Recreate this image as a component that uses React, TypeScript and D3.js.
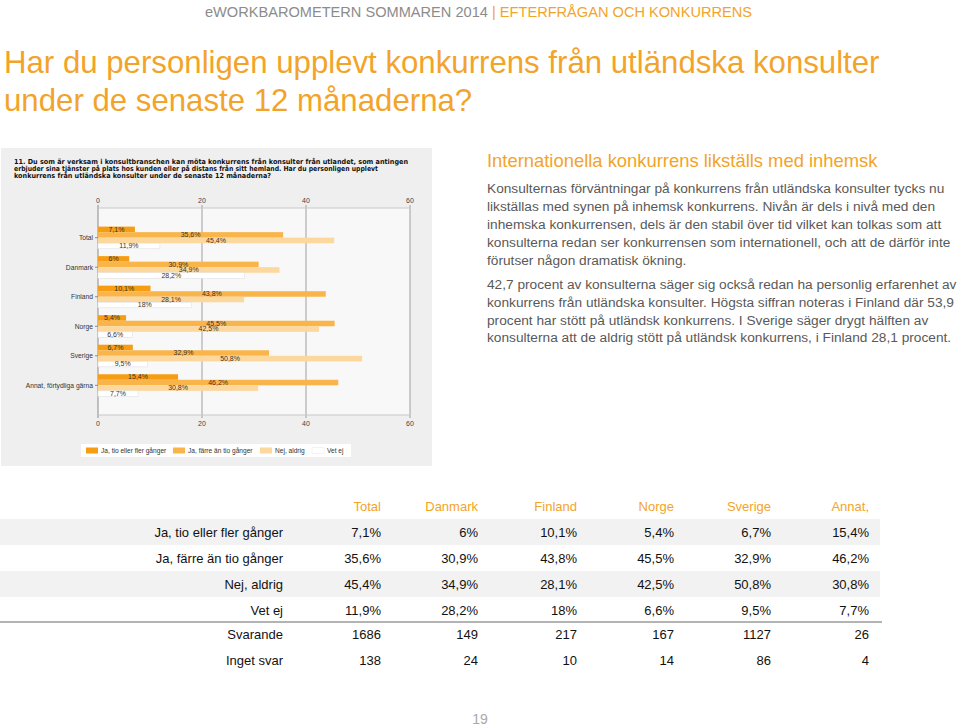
import React from "react";
import * as d3 from "d3";

const categories = ["Total", "Danmark", "Finland", "Norge", "Sverige", "Annat, förtydliga gärna"];
const tableColumns = ["Total", "Danmark", "Finland", "Norge", "Sverige", "Annat,"];
const seriesNames = ["Ja, tio eller fler gånger", "Ja, färre än tio gånger", "Nej, aldrig", "Vet ej"];
const tioEllerFler = [7.1, 6, 10.1, 5.4, 6.7, 15.4];
const farreAnTio = [35.6, 30.9, 43.8, 45.5, 32.9, 46.2];
const nejAldrig = [45.4, 34.9, 28.1, 42.5, 50.8, 30.8];
const vetEj = [11.9, 28.2, 18, 6.6, 9.5, 7.7];
const svarande = [1686, 149, 217, 167, 1127, 26];
const ingetSvar = [138, 24, 10, 14, 86, 4];
const xTicks = [0, 20, 40, 60];

const seriesValues = [tioEllerFler, farreAnTio, nejAldrig, vetEj];
const seriesColors = ["#f79d14", "#fab54a", "#fcd79e", "#ffffff"];

const questionLines = [
  "11. Du som är verksam i konsultbranschen kan möta konkurrens från konsulter från utlandet, som antingen",
  "erbjuder sina tjänster på plats hos kunden eller på distans från sitt hemland. Har du personligen upplevt",
  "konkurrens från utländska konsulter under de senaste 12 månaderna?",
];
const questionWidths = [394, 364, 257];

const bodyPara1 = [
  "Konsulternas förväntningar på konkurrens från utländska konsulter tycks nu",
  "likställas med synen på inhemsk konkurrens. Nivån är dels i nivå med den",
  "inhemska konkurrensen, dels är den stabil över tid vilket kan tolkas som att",
  "konsulterna redan ser konkurrensen som internationell, och att de därför inte",
  "förutser någon dramatisk ökning.",
];
const bodyPara2 = [
  "42,7 procent av konsulterna säger sig också redan ha personlig erfarenhet av",
  "konkurrens från utländska konsulter. Högsta siffran noteras i Finland där 53,9",
  "procent har stött på utländsk konkurrens. I Sverige säger drygt hälften av",
  "konsulterna att de aldrig stött på utländsk konkurrens, i Finland 28,1 procent.",
];

const fmtPct = (v: number) => String(v).replace(".", ",") + "%";

const ORANGE = "#f2a42a";
const FONT = "'Liberation Sans', Arial, sans-serif";

export default function App() {
  const x = d3.scaleLinear().domain([0, 60]).range([98, 410]);
  const yTop = 208;
  const yBot = 415;
  const y0 = d3.scaleBand<string>().domain(categories).range([yTop, yBot]).paddingInner(0.25).paddingOuter(0.63);
  const y1 = d3.scaleBand<number>().domain([0, 1, 2, 3]).range([0, y0.bandwidth()]);

  const tableRowY = [532, 558, 584, 610];
  const colRight = [381, 478, 577, 674, 771, 869];

  return (
    <div style={{ position: "absolute", left: 0, top: 0 }}>
      <svg width={960} height={728} style={{ display: "block", fontFamily: FONT }}>
        <rect width={960} height={728} fill="#ffffff" />
        {/* header */}
        <text x={752} y={17} textAnchor="end" fontSize={14.6} fill="#8c8c8c">
          eWORKBAROMETERN SOMMAREN 2014 <tspan fill={ORANGE}>| EFTERFRÅGAN OCH KONKURRENS</tspan>
        </text>
        {/* title */}
        <text x={4} y={73} fontSize={31.2} fill={ORANGE}>
          Har du personligen upplevt konkurrens från utländska konsulter
        </text>
        <text x={4} y={111} fontSize={31.2} fill={ORANGE}>
          under de senaste 12 månaderna?
        </text>

        {/* chart panel */}
        <rect x={1} y={148} width={431} height={318} fill="#efefef" />
        {questionLines.map((l, i) => (
          <text key={i} x={14} y={164 + i * 7.2} fontSize={7} fontWeight="bold" fill="#111"
            fontFamily="'DejaVu Sans', Verdana, sans-serif" textLength={questionWidths[i]} lengthAdjust="spacingAndGlyphs">
            {l}
          </text>
        ))}
        <rect x={x(0)} y={yTop} width={x(60) - x(0)} height={yBot - yTop} fill="#f8f8f8" />
        {xTicks.map((t) => (
          <g key={t}>
            <line x1={x(t)} x2={x(t)} y1={yTop - 3} y2={yBot + 3} stroke={t === 0 ? "#8a8a8a" : "#a0a0a0"} strokeWidth={1} />
            <text x={x(t)} y={yTop - 5} textAnchor="middle" fontSize={7} fill="#444">{t}</text>
            <text x={x(t)} y={yBot + 11} textAnchor="middle" fontSize={7} fill="#444">{t}</text>
          </g>
        ))}
        <line x1={x(0)} x2={x(60)} y1={yTop} y2={yTop} stroke="#c8c8c8" strokeWidth={1} />
        <line x1={x(0)} x2={x(60)} y1={yBot} y2={yBot} stroke="#c8c8c8" strokeWidth={1} />
        {categories.map((c, ci) => {
          const gy = y0(c)!;
          return (
            <g key={c}>
              <line x1={x(0) - 3} x2={x(0)} y1={gy + y0.bandwidth() / 2} y2={gy + y0.bandwidth() / 2} stroke="#8a8a8a" />
              <text x={x(0) - 5} y={gy + y0.bandwidth() / 2 + 2.5} textAnchor="end" fontSize={6.7} fill="#333">{c}</text>
              {seriesValues.map((vals, si) => (
                <rect key={si} x={x(0)} y={gy + y1(si)!} width={x(vals[ci]) - x(0)} height={y1.bandwidth()}
                  fill={seriesColors[si]} stroke={si === 3 ? "#e2e2e2" : "none"} strokeWidth={0.6} />
              ))}
              {seriesValues.map((vals, si) => (
                <text key={"l" + si} x={(x(0) + x(vals[ci])) / 2} y={gy + y1(si)! + y1.bandwidth() / 2 + 2.4}
                  textAnchor="middle" fontSize={7} fill="#3d3322">{fmtPct(vals[ci])}</text>
              ))}
            </g>
          );
        })}
        {/* legend */}
        <rect x={81} y={444} width={270} height={13} fill="#ffffff" />
        {seriesNames.map((n, i) => {
          const lx = [86, 173, 260, 312][i];
          return (
            <g key={n}>
              <rect x={lx} y={447.5} width={12} height={6} fill={seriesColors[i]} stroke={i === 3 ? "#e8e8e8" : "none"} strokeWidth={0.5} />
              <text x={lx + 15} y={453} fontSize={6.6} fill="#333">{n}</text>
            </g>
          );
        })}

        {/* right text */}
        <text x={487} y={166.5} fontSize={18.4} fill={ORANGE}>Internationella konkurrens likställs med inhemsk</text>
        {bodyPara1.map((l, i) => (
          <text key={i} x={487} y={193 + i * 18} fontSize={13.7} fill="#595959">{l}</text>
        ))}
        {bodyPara2.map((l, i) => (
          <text key={i} x={487} y={289 + i * 17.8} fontSize={13.7} fill="#595959">{l}</text>
        ))}

        {/* table */}
        <rect x={0} y={519} width={880} height={26} fill="#f2f2f2" />
        <rect x={0} y={571} width={880} height={26} fill="#f2f2f2" />
        {tableColumns.map((c, i) => (
          <text key={c} x={colRight[i]} y={511} textAnchor="end" fontSize={13} fill={ORANGE}>{c}</text>
        ))}
        {seriesNames.map((n, si) => (
          <g key={n}>
            <text x={283} y={tableRowY[si] + 5} textAnchor="end" fontSize={13} fill="#111">{n}</text>
            {seriesValues[si].map((v, ci) => (
              <text key={ci} x={colRight[ci]} y={tableRowY[si] + 5} textAnchor="end" fontSize={13} fill="#111">{fmtPct(v)}</text>
            ))}
          </g>
        ))}
        <line x1={0} x2={882} y1={622} y2={622} stroke="#9a9a9a" strokeWidth={1.5} />
        <text x={283} y={639} textAnchor="end" fontSize={13} fill="#111">Svarande</text>
        {svarande.map((v, ci) => (
          <text key={ci} x={colRight[ci]} y={639} textAnchor="end" fontSize={13} fill="#111">{v}</text>
        ))}
        <text x={283} y={665} textAnchor="end" fontSize={13} fill="#111">Inget svar</text>
        {ingetSvar.map((v, ci) => (
          <text key={ci} x={colRight[ci]} y={665} textAnchor="end" fontSize={13} fill="#111">{v}</text>
        ))}
        <text x={480} y={724} textAnchor="middle" fontSize={14} fill="#a8a8a8">19</text>
      </svg>
    </div>
  );
}
